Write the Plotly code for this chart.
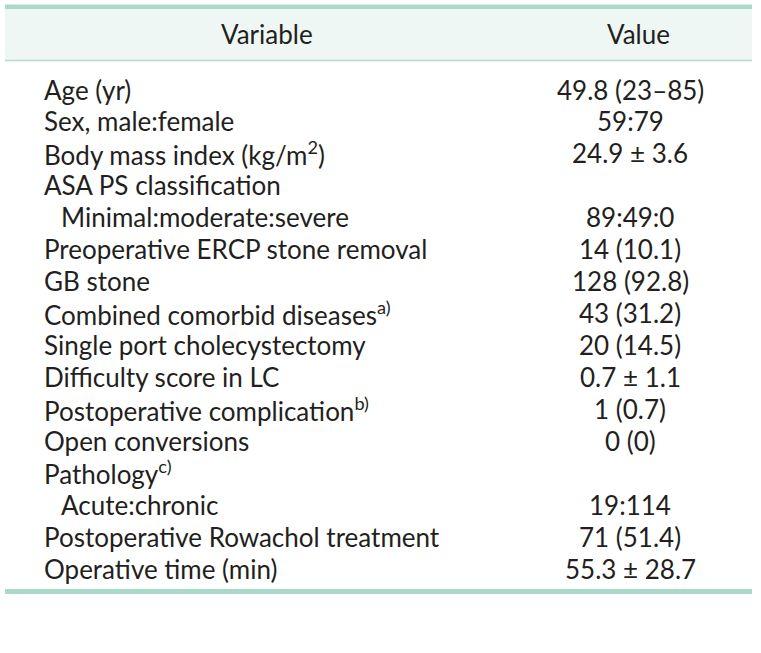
import plotly.graph_objects as go

variables = [
    "Age (yr)",
    "Sex, male:female",
    "Body mass index (kg/m<sup>2</sup>)",
    "ASA PS classification",
    "  Minimal:moderate:severe",
    "Preoperative ERCP stone removal",
    "GB stone",
    "Combined comorbid diseases<sup>a)</sup>",
    "Single port cholecystectomy",
    "Difficulty score in LC",
    "Postoperative complication<sup>b)</sup>",
    "Open conversions",
    "Pathology<sup>c)</sup>",
    "  Acute:chronic",
    "Postoperative Rowachol treatment",
    "Operative time (min)",
]
values = [
    "49.8 (23–85)",
    "59:79",
    "24.9 ± 3.6",
    "",
    "89:49:0",
    "14 (10.1)",
    "128 (92.8)",
    "43 (31.2)",
    "20 (14.5)",
    "0.7 ± 1.1",
    "1 (0.7)",
    "0 (0)",
    "",
    "19:114",
    "71 (51.4)",
    "55.3 ± 28.7",
]
headers = ["Variable", "Value"]

W, H = 761, 653
FONT = "Lato"
FS_LABEL = 26
FS_VAL = 26
TXT = "#231f20"

fig = go.Figure()
fig.update_layout(
    width=W, height=H,
    margin=dict(l=0, r=0, t=0, b=0),
    paper_bgcolor="white", plot_bgcolor="white",
    xaxis=dict(range=[0, W], visible=False, fixedrange=True),
    yaxis=dict(range=[H, 0], visible=False, fixedrange=True),
    showlegend=False,
)

x0, x1 = 5, 752
shapes = [
    dict(type="rect", x0=x0, x1=x1, y0=9, y1=60, fillcolor="#eef7f4", line_width=0, layer="below"),
    dict(type="rect", x0=x0, x1=x1, y0=4.5, y1=9, fillcolor="#a9d9c9", line_width=0),
    dict(type="line", x0=x0, x1=x1, y0=60.5, y1=60.5, line=dict(color="#b3dccf", width=1.5)),
    dict(type="rect", x0=x0, x1=x1, y0=589, y1=594, fillcolor="#a9d9c9", line_width=0),
]
fig.update_layout(shapes=shapes)

ann = []
ann.append(dict(x=267, y=34, text=headers[0], showarrow=False, xanchor="center", yanchor="middle",
                borderpad=0, font=dict(family=FONT, size=FS_VAL, color=TXT)))
ann.append(dict(x=638, y=34, text=headers[1], showarrow=False, xanchor="center", yanchor="middle",
                borderpad=0, font=dict(family=FONT, size=FS_VAL, color=TXT)))

y_first, step = 89.5, 31.95
for i, (v, val) in enumerate(zip(variables, values)):
    y = y_first + i * step
    indent = 0
    txt = v
    if v.startswith("  "):
        indent = 17
        txt = v.strip()
    ann.append(dict(x=43 + indent, y=y, text=txt, showarrow=False, xanchor="left", yanchor="middle",
                    borderpad=0, font=dict(family=FONT, size=FS_LABEL, color=TXT)))
    if val:
        ann.append(dict(x=630, y=y, text=val, showarrow=False, xanchor="center", yanchor="middle",
                        borderpad=0, font=dict(family=FONT, size=FS_VAL, color=TXT)))
fig.update_layout(annotations=ann)

fig.write_html("out.html", config={"displayModeBar": False},
               post_script="document.body.style.margin='0';document.body.style.padding='0';")
